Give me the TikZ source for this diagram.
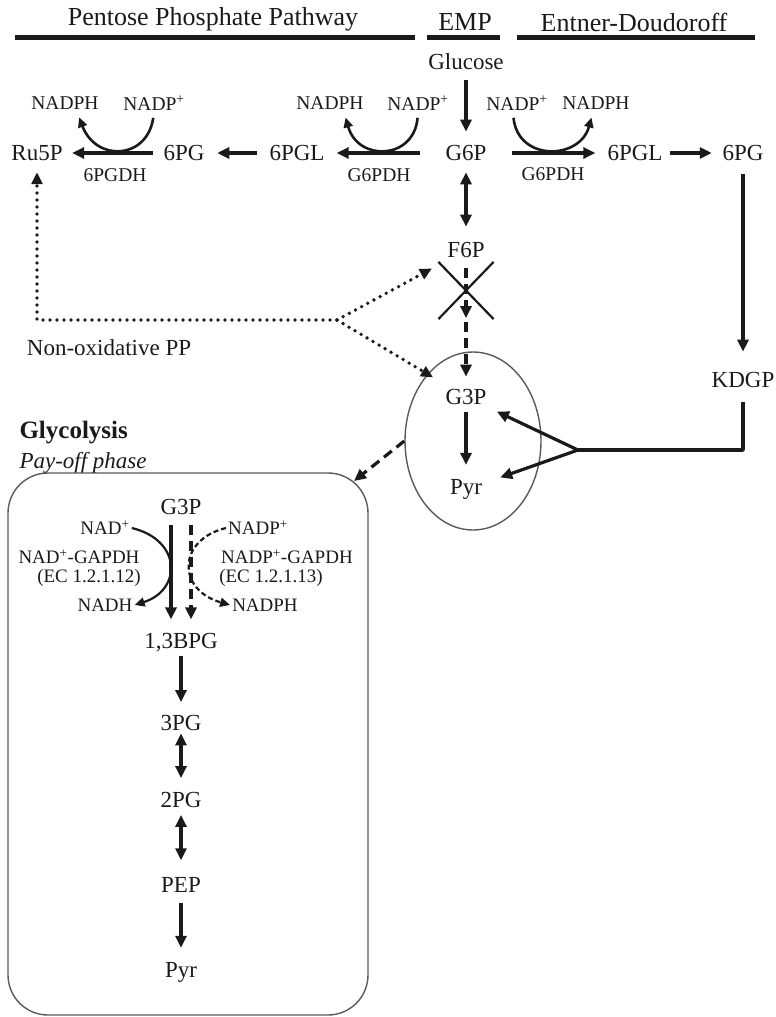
\documentclass[tikz,border=0pt]{standalone}
\usepackage{fontspec}
\setmainfont{Liberation Serif}
\usetikzlibrary{arrows.meta,shapes.geometric,shapes.misc}
\definecolor{ink}{HTML}{1A1A1A}
\definecolor{rim}{HTML}{5A5A5A}
\newcommand{\headfont}{\fontsize{26}{30}\selectfont}
\newcommand{\metfont}{\fontsize{23}{27}\selectfont}
\newcommand{\cofont}{\fontsize{19.5}{23}\selectfont}
\newcommand{\boxfont}{\fontsize{19}{22}\selectfont}
\tikzset{
  every picture/.style = {line join=round},
  met/.style   = {font=\metfont, text=ink, inner sep=2pt},
  cof/.style   = {font=\cofont, text=ink, inner sep=2pt},
  boxcof/.style= {font=\boxfont, text=ink, inner sep=2pt},
  head/.style  = {font=\headfont, text=ink, inner sep=2pt},
  tip/.style   = {-{Triangle[length=12pt,width=11pt]}},
  twotip/.style= {{Triangle[length=12pt,width=11pt]}-{Triangle[length=12pt,width=11pt]}},
  flow/.style  = {draw=ink, line width=3.2pt, tip},
  flowtwo/.style = {draw=ink, line width=3.2pt, twotip},
}
\begin{document}
\begin{tikzpicture}[x=1pt, y=-1pt]
  % pixel grid of the reference, y running down
  \useasboundingbox (0,0) rectangle (776,1017);
  \tikzset{
    rule/.style     = {ink, line width=5pt},
    cofarc/.style   = {draw=ink, line width=2.6pt, -{Triangle[length=10pt,width=9pt]}},
    dotflow/.style  = {draw=ink, line width=3.8pt, line cap=round,
                       dash pattern=on 0pt off 7pt, tip},
    dashflow/.style = {draw=ink, line width=3.2pt, dash pattern=on 10pt off 6pt, tip},
    thinrim/.style  = {draw=rim, line width=1.4pt},
  }

  % --- Pathway headers ---------------------------------------------------
  \node[head] (pppname) at (213,19) {Pentose Phosphate Pathway};
  \node[head] (empname) at (465,22) {EMP};
  \node[head] (edname)  at (634,22) {Entner-Doudoroff};
  \draw[rule] (15,37) -- (415,37);
  \draw[rule] (427,37) -- (500,37);
  \draw[rule] (517,37) -- (755,37);

  % --- EMP column --------------------------------------------------------
  \node[met] (glc) at (466,62)  {Glucose};
  \node[met] (g6p) at (466,153) {G6P};
  \node[met] (f6p) at (466,250) {F6P};
  % the blocked PGI/PFK step below F6P
  \node[draw=ink, line width=2.2pt, cross out, inner sep=0pt,
        minimum width=53pt, minimum height=55pt] (blk) at (466,290.5) {};

  \draw[flow, shorten <=8pt, shorten >=11.4pt] (glc) -- (g6p);
  \draw[flowtwo, shorten <=9.4pt, shorten >=13.4pt] (g6p) -- (f6p);

  % --- Oxidative PP branch (to the left) ---------------------------------
  \node[met] (pglA) at (297,153) {6PGL};
  \node[met] (pgA)  at (184,153) {6PG};
  \node[met] (ru5p) at (37,153)  {Ru5P};
  \node[cof] (nadphA) at (65,103)  {NADPH};
  \node[cof] (nadpA)  at (154,103) {NADP\textsuperscript{+}};
  \node[cof] (pgdhA)  at (115,175) {6PGDH};
  \node[cof] (nadphB) at (330,103) {NADPH};
  \node[cof] (nadpB)  at (418,103) {NADP\textsuperscript{+}};
  \node[cof] (zwfB)   at (379,175) {G6PDH};

  \draw[flow, shorten <=23.6pt, shorten >=10pt]   (g6p) -- (pglA);
  \draw[flow, shorten <=10.5pt, shorten >=10.6pt] (pglA) -- (pgA);
  \draw[flow, shorten <=8.6pt, shorten >=7.4pt]   (pgA) -- (ru5p);
  \draw[cofarc, shorten <=5pt, shorten >=6pt]
    (nadpA.south) .. controls (147,160) and (96,162) .. ([xshift=12pt]nadphA.south);
  \draw[cofarc, shorten <=5pt, shorten >=6pt]
    (nadpB.south) .. controls (414,160) and (358,162) .. ([xshift=14pt]nadphB.south);

  % --- Entner-Doudoroff branch (to the right) ----------------------------
  \node[met] (pglC) at (635,153) {6PGL};
  \node[met] (pgC)  at (743,153) {6PG};
  \node[met] (kdgp) at (743,380) {KDGP};
  \node[cof] (nadpC)  at (517,103) {NADP\textsuperscript{+}};
  \node[cof] (nadphC) at (596,103) {NADPH};
  \node[cof] (zwfC)   at (553,174) {G6PDH};

  \draw[flow, shorten <=23.6pt, shorten >=10pt]   (g6p) -- (pglC);
  \draw[flow, shorten <=5.5pt, shorten >=8.6pt]   (pglC) -- (pgC);
  \draw[flow, shorten <=11.4pt, shorten >=18.4pt] (pgC) -- (kdgp);
  \draw[cofarc, shorten <=5pt, shorten >=6pt]
    ([xshift=-4pt]nadpC.south) .. controls (518,162) and (580,160) .. ([xshift=-3pt]nadphC.south);

  % --- Lower EMP: G3P -> Pyr inside the ring -----------------------------
  \node[thinrim, ellipse, minimum width=136pt, minimum height=178pt] (ring) at (473,441) {};
  \node[met] (g3pA) at (466,397)   {G3P};
  \node[met] (pyrA) at (466,489.5) {Pyr};
  \draw[flow, shorten <=5.4pt, shorten >=12.4pt] (g3pA) -- (pyrA);

  \draw[dashflow, shorten <=8.4pt, shorten >=1pt]  (f6p) -- (blk.south);
  \draw[dashflow, shorten <=3pt, shorten >=10.4pt] (blk.south) -- (g3pA);

  % KDGP aldolase splits into G3P and Pyr
  \coordinate (split) at (578,450);
  \draw[draw=ink, line width=3.4pt, shorten <=12pt] (kdgp) |- (split);
  \draw[flow, shorten >=11pt] (split) -- (g3pA);
  \draw[flow, shorten >=17pt] (split) -- (pyrA);

  % --- Non-oxidative PP (dotted) -----------------------------------------
  \coordinate (hub) at (337,320);
  \node[met] (noxlab) at (109,348) {Non-oxidative PP};
  \draw[dotflow, shorten >=9.4pt] (hub) -| (ru5p);
  \draw[dotflow, shorten >=18pt]  (hub) -- (f6p);
  \draw[dotflow, shorten >=19pt]  (hub) -- (g3pA);

  % --- Glycolysis pay-off box --------------------------------------------
  \node[font=\fontsize{25}{29}\selectfont\bfseries, text=ink, anchor=west] (glylab) at (16,433) {Glycolysis};
  \node[font=\metfont\itshape, text=ink, anchor=west] (phaselab) at (16,463) {Pay-off phase};
  \node[thinrim, rounded corners=40pt, minimum width=360pt, minimum height=542pt] (payoff) at (188,744) {};
  \coordinate (boxin) at (354,481);
  \draw[dashflow] (ring.west) -- (boxin);

  \node[met] (g3pB) at (181,507) {G3P};
  \node[boxcof] (nadD)   at (105,528) {NAD\textsuperscript{+}};
  \node[boxcof] (gapA)   at (79,557)  {NAD\textsuperscript{+}-GAPDH};
  \node[boxcof] (ecA)    at (89,578)  {(EC 1.2.1.12)};
  \node[boxcof] (nadhD)  at (105,605) {NADH};
  \node[boxcof] (nadpD)  at (258,528) {NADP\textsuperscript{+}};
  \node[boxcof] (gapN)   at (287,557) {NADP\textsuperscript{+}-GAPDH};
  \node[boxcof] (ecN)    at (271,578) {(EC 1.2.1.13)};
  \node[boxcof] (nadphD) at (265,605) {NADPH};

  \node[met] (bpg)  at (181,643) {1,3BPG};
  \node[met] (pg3)  at (181,723) {3PG};
  \node[met] (pg2)  at (181,800) {2PG};
  \node[met] (pep)  at (181,885) {PEP};
  \node[met] (pyrB) at (181,972) {Pyr};

  % NAD+ route (solid) and NADP+ route (dashed) side by side
  \draw[flow, shorten <=8.4pt, shorten >=12pt] ([xshift=-10pt]g3pB.south) -- ([xshift=-10pt]bpg.north);
  \draw[dashflow, shorten <=8.4pt, shorten >=12pt] ([xshift=10pt]g3pB.south) -- ([xshift=10pt]bpg.north);
  \draw[cofarc, line width=2.2pt]
    (nadD.east) .. controls (182,540) and (182,590) .. (nadhD.east);
  \draw[cofarc, line width=2.2pt, dash pattern=on 5pt off 3pt]
    (nadpD.west) .. controls (177,540) and (177,590) .. (nadphD.west);

  \draw[flow, shorten <=1pt, shorten >=11pt]       (bpg) -- (pg3);
  \draw[flowtwo, shorten <=0.5pt, shorten >=12pt]  (pg3) -- (pg2);
  \draw[flowtwo, shorten <=5pt, shorten >=15pt]    (pg2) -- (pep);
  \draw[flow, shorten <=8.4pt, shorten >=12pt]     (pep) -- (pyrB);
\end{tikzpicture}
\end{document}
